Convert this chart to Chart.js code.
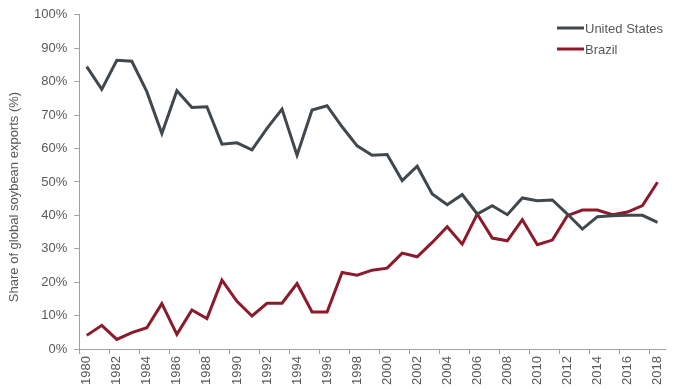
<!DOCTYPE html>
<html>
<head>
<meta charset="utf-8">
<script src="https://cdn.jsdelivr.net/npm/chart.js@4/dist/chart.umd.min.js"></script>
<style>
html,body{margin:0;padding:0;background:#fff;}
#wrap{width:681px;height:389px;}
</style>
</head>
<body>
<div id="wrap"><canvas id="c" width="681" height="389"></canvas></div>
<script>
const years = [1980,1981,1982,1983,1984,1985,1986,1987,1988,1989,1990,1991,1992,1993,1994,1995,1996,1997,1998,1999,2000,2001,2002,2003,2004,2005,2006,2007,2008,2009,2010,2011,2012,2013,2014,2015,2016,2017,2018];
const unitedStates = [84.5,77.7,86.4,86.1,77.0,64.5,77.3,72.3,72.5,61.3,61.7,59.6,66.0,71.8,58.0,71.5,72.8,66.5,60.8,58.0,58.2,50.4,54.7,46.4,43.2,46.2,40.4,42.9,40.2,45.2,44.4,44.6,40.4,35.9,39.6,39.9,40.0,40.0,37.9];
const brazil = [4.1,7.1,2.9,4.9,6.4,13.6,4.4,11.7,9.1,20.6,14.3,9.9,13.7,13.7,19.6,11.1,11.1,22.9,22.1,23.6,24.2,28.7,27.6,31.9,36.6,31.4,40.4,33.2,32.4,38.7,31.2,32.6,39.9,41.6,41.6,40.2,41.0,42.9,49.9];
const yTicks = [0,10,20,30,40,50,60,70,80,90,100];
const seriesNames = ['United States','Brazil'];
const yTitle = 'Share of global soybean exports (%)';
const seriesColors = ['#40484e','#8c1a2b'];
const txt = '#595959';
const axisCol = '#a0a0a0';
const font = {family:'"Liberation Sans", Arial, sans-serif', size:13};
const fontStr = '13px "Liberation Sans", Arial, sans-serif';

const textPlugin = {
  id:'customText',
  afterDraw(chart){
    const ctx = chart.ctx;
    ctx.save();
    const rows = [28,49];
    seriesNames.forEach((n,i)=>{
      ctx.strokeStyle = seriesColors[i];
      ctx.lineWidth = 3;
      ctx.beginPath();
      ctx.moveTo(557, rows[i]);
      ctx.lineTo(584, rows[i]);
      ctx.stroke();
      ctx.fillStyle = txt;
      ctx.font = fontStr;
      ctx.textBaseline = 'middle';
      ctx.textAlign = 'left';
      ctx.fillText(n, 585, rows[i] + 1);
    });
    // y-axis title
    ctx.translate(14, 197);
    ctx.rotate(-Math.PI/2);
    ctx.fillStyle = txt;
    ctx.font = fontStr;
    ctx.textAlign = 'center';
    ctx.textBaseline = 'middle';
    ctx.fillText(yTitle, 0, 0);
    ctx.restore();
  }
};

new Chart(document.getElementById('c'), {
  type:'line',
  data:{
    labels: years.map(String),
    datasets:[
      {label:seriesNames[0], data:unitedStates, borderColor:seriesColors[0], borderWidth:3, pointRadius:0, tension:0, fill:false},
      {label:seriesNames[1], data:brazil, borderColor:seriesColors[1], borderWidth:3, pointRadius:0, tension:0, fill:false}
    ]
  },
  options:{
    responsive:false,
    animation:false,
    layout:{padding:{left:27,right:16,top:11,bottom:2}},
    plugins:{legend:{display:false}, tooltip:{enabled:false}},
    scales:{
      x:{
        offset:true,
        border:{display:true,color:axisCol,width:1},
        grid:{offset:true, drawOnChartArea:false, drawTicks:true, tickLength:5,
          color:(c)=> (c.index % 2 === 0 ? axisCol : 'rgba(0,0,0,0)')},
        ticks:{autoSkip:false, minRotation:90, maxRotation:90, color:txt, font:font, padding:2,
          callback:function(v,i){ return i % 2 === 0 ? this.getLabelForValue(v) : ''; }}
      },
      y:{
        min:0, max:100,
        afterBuildTicks:(s)=>{ s.ticks = yTicks.map(v=>({value:v})); },
        border:{display:true,color:axisCol,width:1},
        grid:{drawOnChartArea:false, drawTicks:true, tickLength:5, color:axisCol},
        ticks:{color:txt, font:font, padding:7, callback:(v)=> v + '%'},
        title:{display:false}
      }
    }
  },
  plugins:[textPlugin]
});
</script>
</body>
</html>
